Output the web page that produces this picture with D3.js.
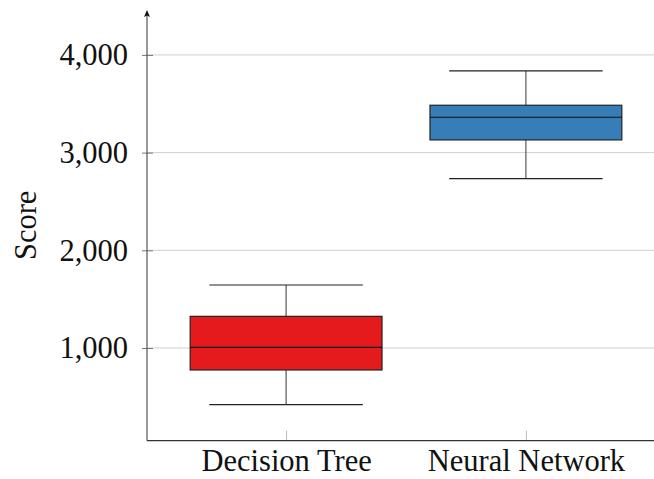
<!DOCTYPE html>
<html>
<head>
<meta charset="utf-8">
<script src="https://cdn.jsdelivr.net/npm/d3@7"></script>
<style>
  html, body { margin: 0; padding: 0; background: #fff; }
  svg { display: block; }
</style>
</head>
<body>
<svg></svg>
<script>
// Chart data
const categories = ['Decision Tree', 'Neural Network'];
const whiskerLow = [420, 2734];
const q1 = [775, 3130];
const medians = [1007, 3362];
const q3 = [1324, 3485];
const whiskerHigh = [1645, 3836];
const colors = ['#e41a1c', '#377eb8'];
const yTicks = [1000, 2000, 3000, 4000];

const width = 654, height = 479;
const svg = d3.select('svg').attr('width', width).attr('height', height);

const font = '"Liberation Serif", "Times New Roman", serif';
const fontSize = '30.5px';

// Category i sits at x = i + 1 on a linear axis like pgfplots
const x = d3.scaleLinear().domain([0.42, 2.58]).range([147, 665]);
const y = d3.scaleLinear().domain([51, 4460]).range([440.7, 10]);

const left = x.range()[0], bottom = y.range()[0];

// Grid lines
svg.append('g')
    .selectAll('line')
    .data(yTicks)
    .enter()
    .append('line')
    .attr('x1', left)
    .attr('x2', width)
    .attr('y1', d => y(d))
    .attr('y2', d => y(d))
    .attr('stroke', '#d0d0d0')
    .attr('stroke-width', 1);

// Y axis via d3.axisLeft, then restyled
const yAxis = svg.append('g')
    .attr('transform', `translate(${left},0)`)
    .call(d3.axisLeft(y).tickValues(yTicks).tickSize(5).tickPadding(14)
        .tickFormat(d3.format(',')));
yAxis.select('.domain').remove();
yAxis.selectAll('.tick line')
    .attr('x2', 6).attr('x1', -5)
    .attr('stroke', '#777');
yAxis.selectAll('.tick text')
    .style('font-family', font)
    .style('font-size', fontSize)
    .attr('fill', '#111');

// X axis ticks (inside, pointing up)
const xAxis = svg.append('g')
    .attr('transform', `translate(0,${bottom})`)
    .call(d3.axisBottom(x).tickValues([1, 2]).tickSize(-10).tickPadding(9)
        .tickFormat((d, i) => categories[i]));
xAxis.select('.domain').remove();
xAxis.selectAll('.tick line').attr('stroke', '#bbb');
xAxis.selectAll('.tick text')
    .style('font-family', font)
    .style('font-size', fontSize)
    .attr('fill', '#111');

// Axis lines
svg.append('line')
    .attr('x1', left).attr('x2', width)
    .attr('y1', bottom).attr('y2', bottom)
    .attr('stroke', '#333').attr('stroke-width', 1.2);
svg.append('line')
    .attr('x1', left).attr('x2', left)
    .attr('y1', bottom).attr('y2', y.range()[1] + 4)
    .attr('stroke', '#555').attr('stroke-width', 1.2);
svg.append('path')
    .attr('d', `M${left},${y.range()[1]} L${left - 3},${y.range()[1] + 7} L${left},${y.range()[1] + 5.5} L${left + 3},${y.range()[1] + 7} Z`)
    .attr('fill', '#111');

// Boxes
const boxW = 0.8, capW = 0.64;
const boxes = svg.append('g')
    .selectAll('g')
    .data(categories.map((c, i) => ({
        pos: i + 1, lo: whiskerLow[i], q1: q1[i], med: medians[i],
        q3: q3[i], hi: whiskerHigh[i], color: colors[i]
    })))
    .enter()
    .append('g');

// Whisker stems
boxes.append('line')
    .attr('x1', d => x(d.pos)).attr('x2', d => x(d.pos))
    .attr('y1', d => y(d.hi)).attr('y2', d => y(d.lo))
    .attr('stroke', '#555').attr('stroke-width', 1.2);

// Whisker caps
['lo', 'hi'].forEach(k => {
    boxes.append('line')
        .attr('x1', d => x(d.pos - capW / 2)).attr('x2', d => x(d.pos + capW / 2))
        .attr('y1', d => y(d[k])).attr('y2', d => y(d[k]))
        .attr('stroke', '#222').attr('stroke-width', 1.2);
});

boxes.append('rect')
    .attr('x', d => x(d.pos - boxW / 2))
    .attr('width', d => x(d.pos + boxW / 2) - x(d.pos - boxW / 2))
    .attr('y', d => y(d.q3))
    .attr('height', d => y(d.q1) - y(d.q3))
    .attr('fill', d => d.color)
    .attr('stroke', '#222')
    .attr('stroke-width', 1.2);

boxes.append('line')
    .attr('x1', d => x(d.pos - boxW / 2)).attr('x2', d => x(d.pos + boxW / 2))
    .attr('y1', d => y(d.med)).attr('y2', d => y(d.med))
    .attr('stroke', '#111').attr('stroke-width', 1.2);

// Y label
svg.append('text')
    .attr('transform', `translate(36,${(y.range()[0] + y.range()[1]) / 2}) rotate(-90)`)
    .attr('text-anchor', 'middle')
    .style('font-family', font)
    .style('font-size', fontSize)
    .attr('fill', '#111')
    .text('Score');
</script>
</body>
</html>
